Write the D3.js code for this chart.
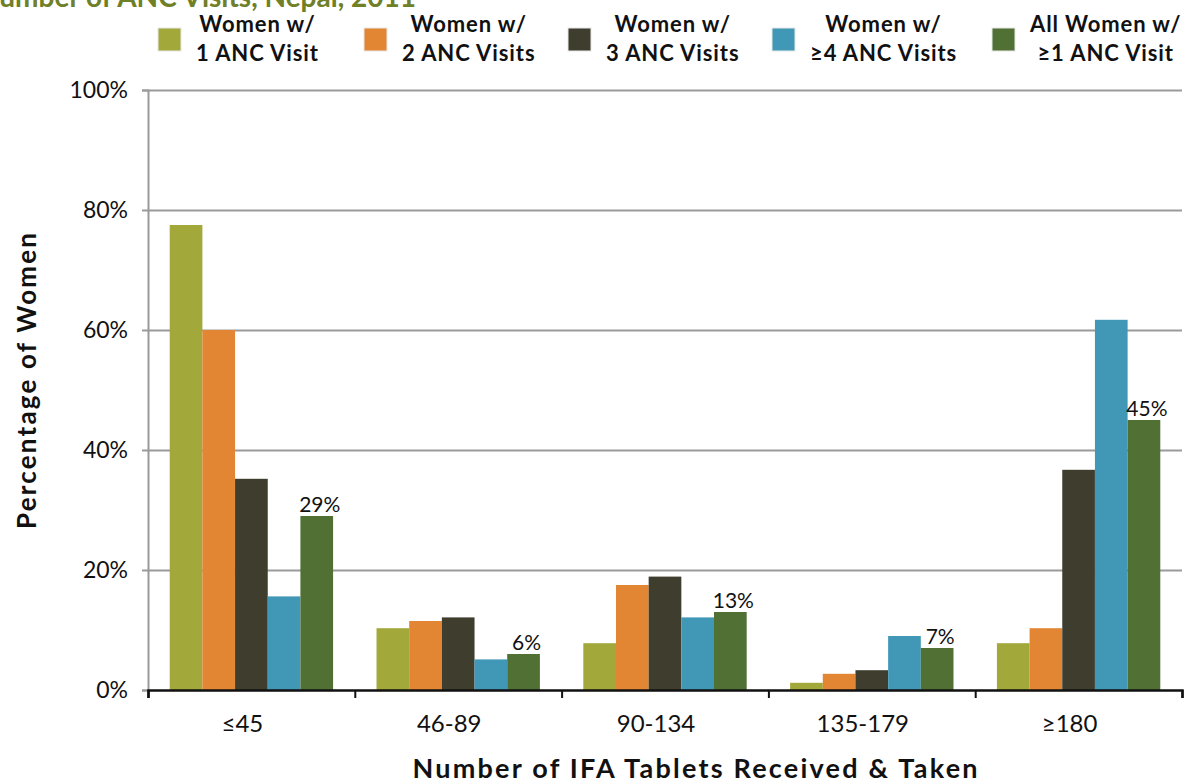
<!DOCTYPE html>
<html>
<head>
<meta charset="utf-8">
<script src="https://cdn.jsdelivr.net/npm/d3@7/dist/d3.min.js"></script>
<style>
  html, body { margin: 0; padding: 0; background: #fff; }
  svg { display: block; font-family: Lato, "Open Sans", sans-serif; }
</style>
</head>
<body>
<svg id="chart" width="1187" height="784"></svg>
<script>
// IFA tablet count groups
const categories = ["≤45", "46-89", "90-134", "135-179", "≥180"];

// Series names (two legend lines each)
const seriesNames = [
  ["Women w/", "1 ANC Visit"],
  ["Women w/", "2 ANC Visits"],
  ["Women w/", "3 ANC Visits"],
  ["Women w/", "≥4 ANC Visits"],
  ["All Women w/", "≥1 ANC Visit"]
];

// Percentage of women, per category
const oneVisit    = [77.5, 10.3, 7.8, 1.2, 7.8];
const twoVisits   = [60.0, 11.5, 17.5, 2.7, 10.3];
const threeVisits = [35.2, 12.1, 18.9, 3.3, 36.7];
const fourPlus    = [15.6, 5.1, 12.1, 9.0, 61.7];
const allWomen    = [29, 6, 13, 7, 45];

const yTicks = [0, 20, 40, 60, 80, 100];

const seriesValues = [oneVisit, twoVisits, threeVisits, fourPlus, allWomen];
const colors = ["#a2a83a", "#e38634", "#3f3d2e", "#4097b6", "#507034"];

const svg = d3.select("#chart");
const plot = { left: 148, right: 1182, top: 90, bottom: 690 };

const xCat = d3.scaleBand().domain(categories).range([plot.left, plot.right]).padding(0);
const bw = xCat.bandwidth();
const xBar = d3.scaleBand().domain(d3.range(seriesValues.length)).range([bw * 0.105, bw * 0.895]).padding(0);
const xEdge = d3.scaleLinear().domain([0, categories.length]).range([plot.left, plot.right]);
const y = d3.scaleLinear().domain([0, 100]).range([plot.bottom, plot.top]);

// Title (second line, running past the top-left corner)
svg.append("text")
  .attr("x", 416).attr("y", 7)
  .attr("text-anchor", "end")
  .attr("font-size", 28).attr("font-weight", 700)
  .attr("fill", "#6f8027")
  .text("Number of ANC Visits, Nepal, 2011");

// Horizontal gridlines
svg.append("g")
  .attr("transform", `translate(${plot.left},0)`)
  .call(d3.axisLeft(y).tickValues(yTicks.slice(1)).tickSize(-(plot.right - plot.left)).tickFormat(""))
  .call(g => g.select(".domain").remove())
  .call(g => g.selectAll("line").attr("stroke", "#9a9a9a").attr("stroke-width", 2));

// Y axis
svg.append("g")
  .attr("transform", `translate(${plot.left},0)`)
  .call(d3.axisLeft(y).tickValues(yTicks).tickSize(6).tickPadding(14).tickFormat(d => d + "%"))
  .call(g => g.select(".domain").attr("stroke", "#9a9a9a").attr("stroke-width", 2))
  .call(g => g.selectAll("line").attr("stroke", "#9a9a9a").attr("stroke-width", 2))
  .call(g => g.selectAll("text").attr("font-size", 23).attr("fill", "#111")
    .attr("font-family", "Lato, sans-serif"));

// Bars
const groups = svg.append("g").selectAll("g")
  .data(categories)
  .join("g")
  .attr("transform", d => `translate(${xCat(d)},0)`);

groups.selectAll("rect")
  .data((c, ci) => seriesValues.map((vals, si) => ({ si, v: vals[ci] })))
  .join("rect")
  .attr("x", d => xBar(d.si))
  .attr("width", xBar.bandwidth())
  .attr("y", d => y(d.v))
  .attr("height", d => y(0) - y(d.v))
  .attr("fill", d => colors[d.si]);

// Value labels on the "All Women" bars
groups.append("text")
  .datum((c, ci) => allWomen[ci])
  .attr("x", xBar(4) + xBar.bandwidth() / 2 + 3)
  .attr("y", d => y(d) - 4)
  .attr("text-anchor", "middle")
  .attr("font-size", 21)
  .attr("fill", "#111")
  .text(d => d3.format(".0f")(d) + "%");

// X axis line with boundary ticks
svg.append("g")
  .attr("transform", `translate(0,${plot.bottom})`)
  .call(d3.axisBottom(xEdge).tickValues(d3.range(categories.length + 1)).tickSize(8).tickFormat(""))
  .call(g => g.select(".domain").attr("stroke", "#111").attr("stroke-width", 2.5))
  .call(g => g.selectAll("line").attr("stroke", "#111").attr("stroke-width", 2));

// Category labels
svg.append("g")
  .attr("transform", `translate(-9,${plot.bottom})`)
  .call(d3.axisBottom(xCat).tickSize(0).tickPadding(25))
  .call(g => g.select(".domain").remove())
  .call(g => g.selectAll("text").attr("font-size", 24).attr("fill", "#111")
    .attr("font-family", "Lato, sans-serif"));

// Axis titles
svg.append("text")
  .attr("x", 695).attr("y", 778)
  .attr("text-anchor", "middle")
  .attr("font-size", 27).attr("font-weight", 700).attr("fill", "#111")
  .attr("textLength", 565).attr("lengthAdjust", "spacing")
  .text("Number of IFA Tablets Received & Taken");

svg.append("text")
  .attr("transform", "translate(36,381) rotate(-90)")
  .attr("text-anchor", "middle")
  .attr("font-size", 26).attr("font-weight", 700).attr("fill", "#111")
  .attr("textLength", 296).attr("lengthAdjust", "spacing")
  .text("Percentage of Women");

// Legend
const legendLeft = [158, 364, 568, 772, 992];
const legend = svg.append("g").selectAll("g")
  .data(seriesNames)
  .join("g")
  .attr("transform", (d, i) => `translate(${legendLeft[i]},0)`);

legend.append("rect")
  .attr("x", 0).attr("y", 28)
  .attr("width", 23).attr("height", 23)
  .attr("fill", (d, i) => colors[i])
  .attr("stroke", "#e8e8e8").attr("stroke-width", 1);

legend.each(function(lines) {
  const g = d3.select(this);
  const t = g.append("text")
    .attr("font-size", 22).attr("font-weight", 700).attr("fill", "#111")
    .attr("letter-spacing", 0.9)
    .attr("text-anchor", "middle");
  t.selectAll("tspan").data(lines).join("tspan")
    .attr("y", (d, i) => 32 + i * 29)
    .text(d => d);
  const w = d3.max(t.selectAll("tspan").nodes(), n => n.getComputedTextLength());
  t.selectAll("tspan").attr("x", 38 + w / 2);
});
</script>
</body>
</html>
